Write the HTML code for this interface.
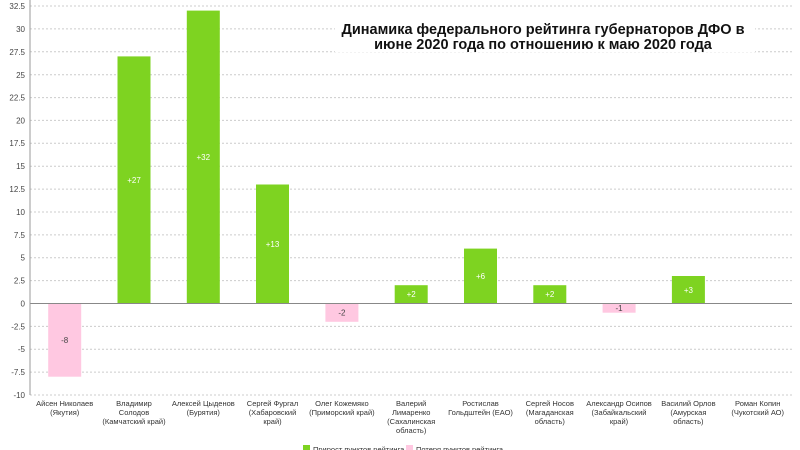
<!DOCTYPE html>
<html><head><meta charset="utf-8"><style>
body{margin:0;background:#fff}
svg{display:block;font-family:"Liberation Sans",sans-serif}
</style></head><body>
<svg width="800" height="450" viewBox="0 0 800 450">
<g stroke="#ccc" stroke-width="1" stroke-dasharray="2,2">
<line x1="30" x2="792" y1="6" y2="6"/><line x1="30" x2="792" y1="28.9" y2="28.9"/><line x1="30" x2="792" y1="51.8" y2="51.8"/><line x1="30" x2="792" y1="74.7" y2="74.7"/><line x1="30" x2="792" y1="97.6" y2="97.6"/><line x1="30" x2="792" y1="120.4" y2="120.4"/><line x1="30" x2="792" y1="143.3" y2="143.3"/><line x1="30" x2="792" y1="166.2" y2="166.2"/><line x1="30" x2="792" y1="189.1" y2="189.1"/><line x1="30" x2="792" y1="212" y2="212"/><line x1="30" x2="792" y1="234.9" y2="234.9"/><line x1="30" x2="792" y1="257.7" y2="257.7"/><line x1="30" x2="792" y1="280.6" y2="280.6"/><line x1="30" x2="792" y1="326.4" y2="326.4"/><line x1="30" x2="792" y1="349.3" y2="349.3"/><line x1="30" x2="792" y1="372.1" y2="372.1"/><line x1="30" x2="792" y1="395" y2="395"/>
</g>
<g font-size="8" fill="#444" text-anchor="end">
<text x="25" y="9">32.5</text><text x="25" y="32">30</text><text x="25" y="55">27.5</text><text x="25" y="78">25</text><text x="25" y="100.5">22.5</text><text x="25" y="123.5">20</text><text x="25" y="146">17.5</text><text x="25" y="169">15</text><text x="25" y="192">12.5</text><text x="25" y="215">10</text><text x="25" y="238">7.5</text><text x="25" y="260.5">5</text><text x="25" y="283.5">2.5</text><text x="25" y="306.5">0</text><text x="25" y="329.5">-2.5</text><text x="25" y="352">-5</text><text x="25" y="375">-7.5</text><text x="25" y="398">-10</text>
</g>
<rect x="335" y="18" width="420" height="34" fill="#fff"/>
<g font-size="14.5" font-weight="bold" fill="#111" text-anchor="middle">
<text x="543" y="34">Динамика федерального рейтинга губернаторов ДФО в</text>
<text x="543" y="49">июне 2020 года по отношению к маю 2020 года</text>
</g>
<g fill="#7ed321">
<rect x="117.5" y="56.4" width="33" height="247.1"/>
<rect x="186.8" y="10.6" width="33" height="292.9"/>
<rect x="256" y="184.5" width="33" height="119"/>
<rect x="394.7" y="285.2" width="33" height="18.3"/>
<rect x="464" y="248.6" width="33" height="54.9"/>
<rect x="533.3" y="285.2" width="33" height="18.3"/>
<rect x="671.9" y="276" width="33" height="27.5"/>
</g>
<g fill="#ffc8e1">
<rect x="48.2" y="303.5" width="33" height="73.2"/>
<rect x="325.4" y="303.5" width="33" height="18.3"/>
<rect x="602.6" y="303.5" width="33" height="9.2"/>
</g>
<line x1="30" x2="792" y1="303.5" y2="303.5" stroke="#888" stroke-width="1"/>
<line x1="30" x2="30" y1="0" y2="395" stroke="#999" stroke-width="1"/>
<g font-size="8" text-anchor="middle">
<text x="134" y="183" fill="#fff">+27</text>
<text x="203.3" y="160" fill="#fff">+32</text>
<text x="272.5" y="247" fill="#fff">+13</text>
<text x="411.2" y="297" fill="#fff">+2</text>
<text x="480.5" y="279" fill="#fff">+6</text>
<text x="549.8" y="297" fill="#fff">+2</text>
<text x="688.4" y="293" fill="#fff">+3</text>
<text x="64.7" y="343" fill="#444">-8</text>
<text x="341.9" y="315.5" fill="#444">-2</text>
<text x="619" y="311" fill="#444">-1</text>
</g>
<g font-size="7.5" fill="#333" text-anchor="middle">
<text x="64.7" y="406">Айсен Николаев</text><text x="64.7" y="415">(Якутия)</text>
<text x="134" y="406">Владимир</text><text x="134" y="415">Солодов</text><text x="134" y="424">(Камчатский край)</text>
<text x="203.3" y="406">Алексей Цыденов</text><text x="203.3" y="415">(Бурятия)</text>
<text x="272.5" y="406">Сергей Фургал</text><text x="272.5" y="415">(Хабаровский</text><text x="272.5" y="424">край)</text>
<text x="341.9" y="406">Олег Кожемяко</text><text x="341.9" y="415">(Приморский край)</text>
<text x="411.2" y="406">Валерий</text><text x="411.2" y="415">Лимаренко</text><text x="411.2" y="424">(Сахалинская</text><text x="411.2" y="433">область)</text>
<text x="480.5" y="406">Ростислав</text><text x="480.5" y="415">Гольдштейн (ЕАО)</text>
<text x="549.8" y="406">Сергей Носов</text><text x="549.8" y="415">(Магаданская</text><text x="549.8" y="424">область)</text>
<text x="619" y="406">Александр Осипов</text><text x="619" y="415">(Забайкальский</text><text x="619" y="424">край)</text>
<text x="688.4" y="406">Василий Орлов</text><text x="688.4" y="415">(Амурская</text><text x="688.4" y="424">область)</text>
<text x="757.7" y="406">Роман Копин</text><text x="757.7" y="415">(Чукотский АО)</text>
</g>
<rect x="303" y="445" width="7" height="7" fill="#7ed321"/>
<text x="313" y="452" font-size="7.5" fill="#333">Прирост пунктов рейтинга</text>
<rect x="406" y="445" width="7" height="7" fill="#ffc8e1"/>
<text x="416" y="452" font-size="7.5" fill="#333">Потеря пунктов рейтинга</text>
</svg>
</body></html>
